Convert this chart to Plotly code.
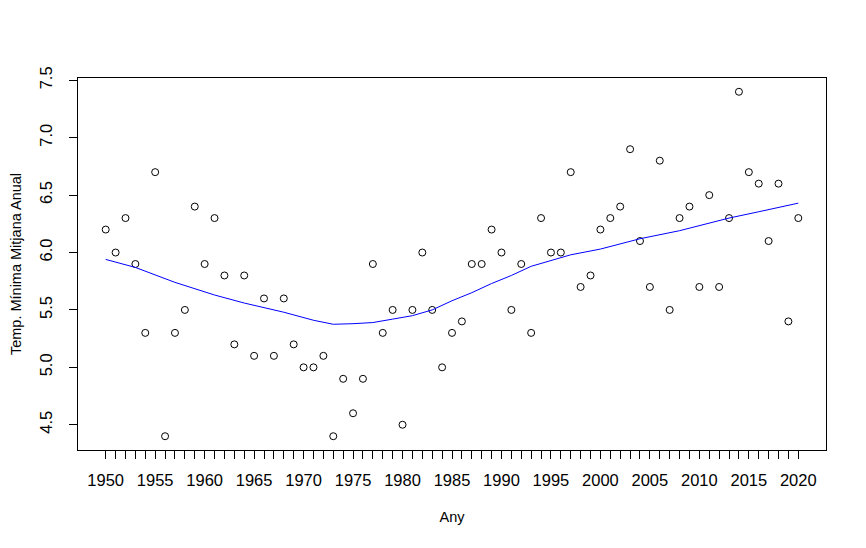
import plotly.graph_objects as go

# annual mean minimum temperature, one value per year
years = list(range(1950, 2021))
temp_min = [
    6.2, 6.0, 6.3, 5.9, 5.3, 6.7, 4.4, 5.3, 5.5, 6.4,
    5.9, 6.3, 5.8, 5.2, 5.8, 5.1, 5.6, 5.1, 5.6, 5.2,
    5.0, 5.0, 5.1, 4.4, 4.9, 4.6, 4.9, 5.9, 5.3, 5.5,
    4.5, 5.5, 6.0, 5.5, 5.0, 5.3, 5.4, 5.9, 5.9, 6.2,
    6.0, 5.5, 5.9, 5.3, 6.3, 6.0, 6.0, 6.7, 5.7, 5.8,
    6.2, 6.3, 6.4, 6.9, 6.1, 5.7, 6.8, 5.5, 6.3, 6.4,
    5.7, 6.5, 5.7, 6.3, 7.4, 6.7, 6.6, 6.1, 6.6, 5.4,
    6.3,
]

# smoothed curve
smooth_years = [1950, 1953, 1957, 1961, 1964, 1968, 1971, 1973, 1975, 1977,
                1979, 1981, 1983, 1985, 1987, 1989, 1991, 1993, 1995, 1997,
                2000, 2004, 2008, 2011, 2013, 2016, 2020]
smooth_vals = [5.94, 5.87, 5.74, 5.63, 5.56, 5.48, 5.41, 5.375, 5.38, 5.39,
               5.42, 5.45, 5.50, 5.58, 5.65, 5.73, 5.80, 5.88, 5.93, 5.98,
               6.03, 6.12, 6.19, 6.255, 6.30, 6.355, 6.43]

x_labels = [str(y) if y % 5 == 0 else "" for y in years]

FONT = "Liberation Sans, Arial, sans-serif"

fig = go.Figure()
fig.add_trace(go.Scatter(
    x=years, y=temp_min, mode="markers",
    marker=dict(symbol="circle-open", size=7, color="black", line=dict(width=1)),
    showlegend=False, hoverinfo="x+y",
))
fig.add_trace(go.Scatter(
    x=smooth_years, y=smooth_vals, mode="lines",
    line=dict(color="blue", width=1),
    showlegend=False,
))

# the page body adds an 8px offset, so the figure is 8px smaller than the window
fig.update_layout(
    width=858, height=540,
    margin=dict(l=70, r=40, t=70, b=98),
    paper_bgcolor="white", plot_bgcolor="white",
    font=dict(family=FONT, size=16.5, color="black"),
)
fig.update_xaxes(
    range=[1947.2, 2022.8], automargin=False,
    tickvals=years, ticktext=x_labels,
    ticks="outside", ticklen=8, tickwidth=1, tickcolor="black",
    ticklabelstandoff=7,
    showline=True, linecolor="black", linewidth=1, mirror=True,
    showgrid=False, zeroline=False,
    title=dict(text="Any", standoff=24, font=dict(size=14.5)),
)
fig.update_yaxes(
    range=[4.28, 7.52], automargin=False,
    tick0=4.5, dtick=0.5, tickformat=".1f", tickangle=-90,
    ticks="outside", ticklen=8, tickwidth=1, tickcolor="black",
    ticklabelstandoff=10,
    showline=True, linecolor="black", linewidth=1, mirror=True,
    showgrid=False, zeroline=False,
    title=dict(text="Temp. Mínima Mitjana Anual", standoff=32, font=dict(size=14.5)),
)

fig.write_html("out.html")
